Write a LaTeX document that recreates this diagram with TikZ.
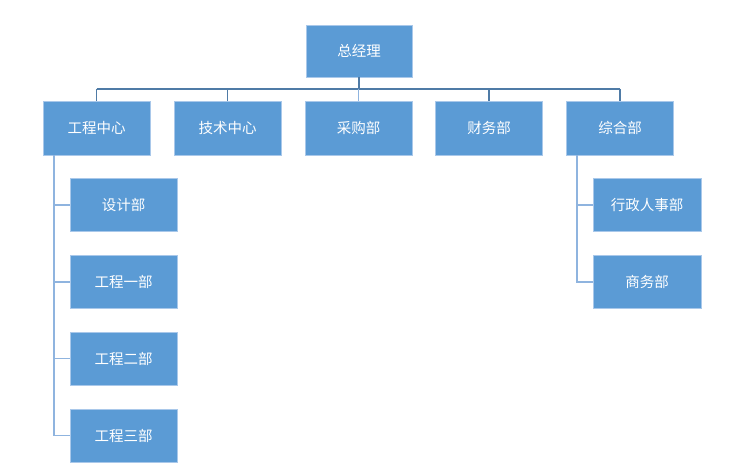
\documentclass[tikz,border=0pt]{standalone}
\usepackage{fontspec}
\newfontfamily\cjk{Noto Sans CJK SC}
\definecolor{boxfill}{HTML}{5B9BD5}
\definecolor{boxline}{HTML}{A9C8EA}
\definecolor{busline}{HTML}{4F7BA6}
\definecolor{childline}{HTML}{8FB4DF}
\begin{document}
\begin{tikzpicture}[x=1pt,y=-1pt,
  box/.style={draw=boxline,line width=0.8pt,fill=boxfill,text=white,font=\cjk\fontsize{14.5}{17}\selectfont,inner sep=0pt},
  bus/.style={draw=busline,line width=1.3pt},
  stub/.style={draw=childline,line width=1.3pt},
  child/.style={draw=childline,line width=1.8pt}]
\useasboundingbox (0,0) rectangle (747,470);
\node[box,minimum width=106pt,minimum height=52pt] (gm) at (359,51) {总经理};
\node[box,minimum width=107pt,minimum height=54pt] (gc) at (96.5,128) {工程中心};
\node[box,minimum width=107pt,minimum height=54pt] (js) at (227.5,128) {技术中心};
\node[box,minimum width=107pt,minimum height=54pt] (cg) at (358.5,128) {采购部};
\node[box,minimum width=107pt,minimum height=54pt] (cw) at (489,128) {财务部};
\node[box,minimum width=107pt,minimum height=54pt] (zh) at (620,128) {综合部};
\node[box,minimum width=107pt,minimum height=53pt] (sj) at (123.5,205) {设计部};
\node[box,minimum width=107pt,minimum height=53pt] (g1) at (123.5,282) {工程一部};
\node[box,minimum width=107pt,minimum height=53pt] (g2) at (123.5,358.5) {工程二部};
\node[box,minimum width=107pt,minimum height=53pt] (g3) at (123.5,435.5) {工程三部};
\node[box,minimum width=108pt,minimum height=53pt] (xz) at (647,205) {行政人事部};
\node[box,minimum width=108pt,minimum height=53pt] (sw) at (647,282) {商务部};
\coordinate (busy) at (0,89);
% bus
\draw[bus] (gm.south) -- (gm.south |- busy);
\draw[bus] (gc.north |- busy) -- (zh.north |- busy);
\foreach \n in {gc,js,cw,zh} \draw[bus] (\n.north |- busy) -- (\n.north);
\draw[stub] (cg.north |- busy) -- (cg.north);
% children of gc
\coordinate (gcx) at (54,0);
\draw[child] (gcx |- gc.south) -- (gcx |- g3.west) -- (g3.west);
\foreach \n in {sj,g1,g2} \draw[child] (gcx |- \n.west) -- (\n.west);
% children of zh
\coordinate (zhx) at (577,0);
\draw[child] (zhx |- zh.south) -- (zhx |- sw.west) -- (sw.west);
\draw[child] (zhx |- xz.west) -- (xz.west);
\end{tikzpicture}
\end{document}
